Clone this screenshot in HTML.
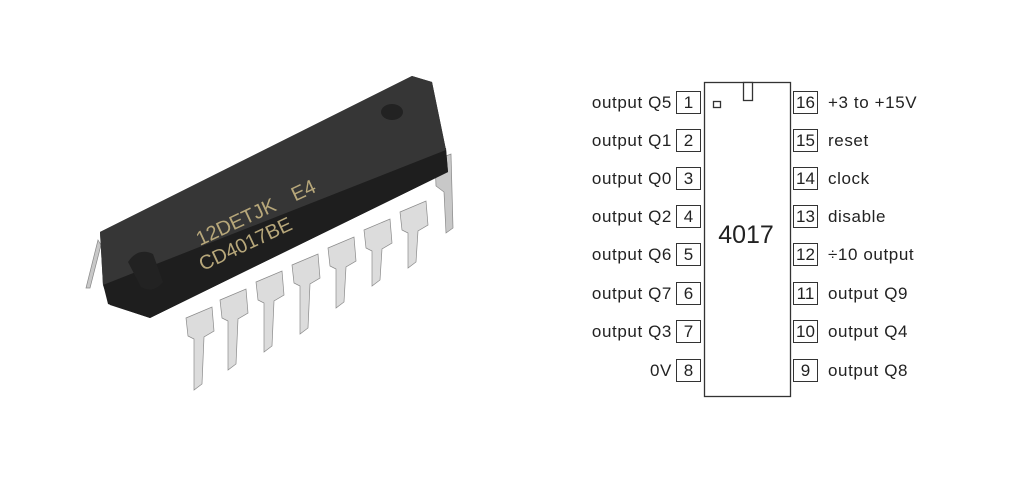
<!DOCTYPE html>
<html><head><style>
html,body{margin:0;padding:0;background:#fff;}
body{width:1024px;height:504px;position:relative;overflow:hidden;font-family:"Liberation Sans",sans-serif;}
.l{position:absolute;font-size:17px;letter-spacing:0.6px;color:#222;line-height:22px;white-space:nowrap;}
.b{position:absolute;border:1px solid #333;width:23px;height:21px;font-size:17px;text-align:center;line-height:21px;color:#222;background:#fff;}
</style></head><body>
<svg width="1024" height="504" style="position:absolute;left:0;top:0">
  <g fill="#c8c8c8" stroke="#888" stroke-width="0.7">
    <path d="M98,240 L86,288 L90,288 L101,245 Z"/>
    <polygon points="435,160 451,154 453,228 446,233 444,192 436,186"/>
  </g>
  <polygon points="100,232 412,76 432,82 446,150 448,172 150,318 110,305 103,285" fill="#2b2b2b"/>
  <polygon points="103,284 446,148 448,172 150,318 108,304" fill="#1e1e1e"/>
  <polygon points="100,232 412,76 432,82 446,150 103,285" fill="#363636"/>
  <ellipse cx="392" cy="112" rx="11" ry="8" fill="#222"/>
  <path d="M128,262 q10,-15 25,-8 l10,28 q-10,12 -22,5 z" fill="#222"/>
  <g transform="translate(200,246) rotate(-25)" fill="#b7a77a" font-family="Liberation Sans" font-size="20">
    <text x="0" y="0">12DETJK</text>
    <text x="105" y="0">E4</text>
    <text x="-8" y="24">CD4017BE</text>
  </g>
  <g fill="#dcdcdc" stroke="#8a8a8a" stroke-width="0.7">
    <polygon points="186,318 212,307 214,331 204,337 202,384 194,390 194,339 188,336"/>
    <polygon points="220,300 246,289 248,313 238,319 236,364 228,370 228,321 222,318"/>
    <polygon points="256,282 282,271 284,295 274,301 272,346 264,352 264,303 258,300"/>
    <polygon points="292,265 318,254 320,278 310,284 308,328 300,334 300,286 294,283"/>
    <polygon points="328,248 354,237 356,261 346,267 344,302 336,308 336,269 330,266"/>
    <polygon points="364,230 390,219 392,243 382,249 380,280 372,286 372,251 366,248"/>
    <polygon points="400,212 426,201 428,225 418,231 416,262 408,268 408,233 402,230"/>
  </g>
  <rect x="704.5" y="82.5" width="86" height="314" fill="#fff" stroke="#333" stroke-width="1.3"/>
  <rect x="743.5" y="82.5" width="9" height="18" fill="#fff" stroke="#333" stroke-width="1.3"/>
  <rect x="713.5" y="101.5" width="7" height="6" fill="#fff" stroke="#333" stroke-width="1.3"/>
  <text x="746" y="243" font-family="Liberation Sans" font-size="25" text-anchor="middle" fill="#222">4017</text>
</svg>

<div class="b" style="left:676px;top:91px">1</div>
<div class="b" style="left:676px;top:129px">2</div>
<div class="b" style="left:676px;top:167px">3</div>
<div class="b" style="left:676px;top:205px">4</div>
<div class="b" style="left:676px;top:243px">5</div>
<div class="b" style="left:676px;top:282px">6</div>
<div class="b" style="left:676px;top:320px">7</div>
<div class="b" style="left:676px;top:359px">8</div>

<div class="b" style="left:793px;top:91px">16</div>
<div class="b" style="left:793px;top:129px">15</div>
<div class="b" style="left:793px;top:167px">14</div>
<div class="b" style="left:793px;top:205px">13</div>
<div class="b" style="left:793px;top:243px">12</div>
<div class="b" style="left:793px;top:282px">11</div>
<div class="b" style="left:793px;top:320px">10</div>
<div class="b" style="left:793px;top:359px">9</div>

<div class="l" style="right:352px;top:92px">output Q5</div>
<div class="l" style="right:352px;top:130px">output Q1</div>
<div class="l" style="right:352px;top:168px">output Q0</div>
<div class="l" style="right:352px;top:206px">output Q2</div>
<div class="l" style="right:352px;top:244px">output Q6</div>
<div class="l" style="right:352px;top:283px">output Q7</div>
<div class="l" style="right:352px;top:321px">output Q3</div>
<div class="l" style="right:352px;top:360px">0V</div>

<div class="l" style="left:828px;top:92px">+3 to +15V</div>
<div class="l" style="left:828px;top:130px">reset</div>
<div class="l" style="left:828px;top:168px">clock</div>
<div class="l" style="left:828px;top:206px">disable</div>
<div class="l" style="left:828px;top:244px">÷10 output</div>
<div class="l" style="left:828px;top:283px">output Q9</div>
<div class="l" style="left:828px;top:321px">output Q4</div>
<div class="l" style="left:828px;top:360px">output Q8</div>
</body></html>
